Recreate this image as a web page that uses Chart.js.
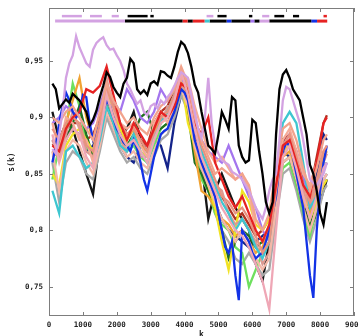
<!DOCTYPE html>
<html><head><meta charset="utf-8">
<script src="https://cdn.jsdelivr.net/npm/chart.js@4"></script>
<style>html,body{margin:0;padding:0;background:#fff}canvas{display:block}</style>
</head><body>
<canvas id="c" width="359" height="336"></canvas>
<script>
// ---- data ----
// fine grid (every 100) for the three most visible series
const kFine = [100,200,300,400,500,600,700,800,900,1000,
  1100,1200,1300,1400,1500,1600,1700,1800,1900,2000,
  2100,2200,2300,2400,2500,2600,2700,2800,2900,3000,
  3100,3200,3300,3400,3500,3600,3700,3800,3900,4000,
  4100,4200,4300,4400,4500,4600,4700,4800,4900,5000,
  5100,5200,5300,5400,5500,5600,5700,5800,5900,6000,
  6100,6200,6300,6400,6500,6600,6700,6800,6900,7000,
  7100,7200,7300,7400,7500,7600,7700,7800,7900,8000,
  8100,8200];
const sBlack = [0.930,0.925,0.908,0.912,0.916,0.913,0.921,0.918,0.915,0.910,
  0.905,0.893,0.898,0.906,0.918,0.928,0.940,0.936,0.927,0.922,
  0.918,0.930,0.935,0.952,0.948,0.925,0.921,0.924,0.920,0.930,
  0.932,0.929,0.941,0.940,0.937,0.935,0.945,0.958,0.967,0.964,
  0.957,0.945,0.929,0.922,0.905,0.890,0.875,0.872,0.868,0.885,
  0.905,0.898,0.890,0.918,0.915,0.875,0.865,0.860,0.862,0.898,
  0.895,0.870,0.850,0.825,0.815,0.825,0.885,0.925,0.938,0.942,
  0.935,0.925,0.920,0.915,0.900,0.885,0.858,0.850,0.835,0.815,
  0.805,0.825];
const sLavender = [0.872,0.868,0.885,0.905,0.935,0.948,0.955,0.972,0.962,0.955,
  0.948,0.945,0.960,0.966,0.969,0.971,0.964,0.960,0.961,0.955,
  0.950,0.942,0.930,0.925,0.918,0.912,0.915,0.905,0.902,0.910,
  0.912,0.908,0.915,0.912,0.918,0.922,0.928,0.935,0.940,0.938,
  0.935,0.920,0.905,0.890,0.882,0.900,0.935,0.895,0.875,0.868,
  0.862,0.860,0.858,0.852,0.850,0.848,0.845,0.840,0.835,0.828,
  0.820,0.815,0.810,0.820,0.835,0.845,0.850,0.880,0.915,0.927,
  0.925,0.915,0.905,0.895,0.880,0.862,0.845,0.842,0.840,0.845,
  0.850,0.860];
const sBlue = [0.860,0.875,0.895,0.910,0.922,0.915,0.905,0.900,0.905,0.920,
  0.918,0.895,0.880,0.885,0.895,0.905,0.915,0.910,0.900,0.890,
  0.885,0.878,0.875,0.870,0.880,0.872,0.860,0.845,0.835,0.850,
  0.865,0.875,0.885,0.888,0.890,0.898,0.905,0.915,0.925,0.922,
  0.915,0.898,0.880,0.870,0.860,0.852,0.845,0.838,0.830,0.815,
  0.800,0.785,0.780,0.790,0.760,0.738,0.800,0.795,0.790,0.780,
  0.775,0.778,0.780,0.790,0.800,0.815,0.830,0.855,0.870,0.878,
  0.875,0.865,0.850,0.835,0.820,0.790,0.760,0.740,0.800,0.835,
  0.860,0.875];

// coarse grid (every 200) for the rest of the bundle
const kValues = [100,300,500,700,900,1100,1300,1500,1700,1900,2100,2300,2500,2700,2900,3100,3300,3500,3700,3900,4100,4300,4500,4700,4900,5100,5300,5500,5700,5900,6100,6300,6500,6700,6900,7100,7300,7500,7700,7900,8100,8200];
const sSalmon1 = [0.900,0.895,0.905,0.910,0.900,0.890,0.880,0.905,0.930,0.915,0.905,0.895,0.900,0.890,0.885,0.900,0.910,0.915,0.925,0.945,0.930,0.900,0.880,0.865,0.850,0.855,0.850,0.845,0.850,0.840,0.810,0.800,0.815,0.855,0.890,0.895,0.880,0.855,0.835,0.855,0.880,0.885];
const sPink = [0.885,0.860,0.880,0.890,0.885,0.865,0.855,0.885,0.920,0.900,0.885,0.875,0.880,0.870,0.860,0.880,0.895,0.900,0.915,0.940,0.920,0.890,0.865,0.850,0.835,0.820,0.810,0.800,0.795,0.785,0.770,0.755,0.730,0.800,0.865,0.875,0.855,0.830,0.810,0.830,0.855,0.860];
const sRed = [0.875,0.870,0.890,0.900,0.905,0.925,0.922,0.928,0.945,0.920,0.895,0.880,0.895,0.885,0.875,0.890,0.905,0.900,0.910,0.930,0.925,0.895,0.885,0.900,0.860,0.845,0.830,0.820,0.830,0.815,0.800,0.790,0.805,0.840,0.875,0.880,0.860,0.840,0.830,0.860,0.895,0.900];
const sSalmon4 = [0.890,0.880,0.895,0.900,0.895,0.875,0.870,0.895,0.925,0.910,0.895,0.885,0.890,0.880,0.870,0.890,0.900,0.905,0.920,0.940,0.925,0.895,0.875,0.860,0.845,0.830,0.825,0.815,0.820,0.810,0.795,0.780,0.790,0.835,0.875,0.885,0.865,0.840,0.825,0.845,0.870,0.875];
const sSalmon5 = [0.895,0.870,0.900,0.895,0.880,0.880,0.860,0.890,0.915,0.905,0.895,0.890,0.895,0.875,0.865,0.895,0.905,0.895,0.910,0.935,0.935,0.910,0.890,0.870,0.860,0.865,0.855,0.845,0.850,0.835,0.800,0.790,0.805,0.845,0.880,0.890,0.870,0.850,0.840,0.860,0.870,0.870];
const sCyan = [0.835,0.815,0.870,0.875,0.865,0.855,0.860,0.880,0.910,0.895,0.875,0.870,0.885,0.870,0.860,0.880,0.895,0.905,0.920,0.940,0.930,0.895,0.870,0.855,0.840,0.825,0.815,0.800,0.810,0.800,0.785,0.775,0.790,0.845,0.895,0.905,0.895,0.860,0.820,0.830,0.855,0.860];
const sSalmon3 = [0.870,0.835,0.870,0.880,0.875,0.860,0.850,0.875,0.905,0.890,0.875,0.865,0.870,0.860,0.855,0.870,0.885,0.890,0.905,0.925,0.910,0.875,0.855,0.840,0.825,0.810,0.800,0.790,0.800,0.790,0.775,0.765,0.775,0.820,0.860,0.865,0.845,0.820,0.800,0.820,0.845,0.850];
const sRosy = [0.880,0.865,0.885,0.905,0.890,0.870,0.865,0.890,0.935,0.905,0.880,0.870,0.885,0.865,0.865,0.885,0.895,0.910,0.910,0.930,0.915,0.880,0.870,0.845,0.840,0.835,0.815,0.805,0.810,0.800,0.790,0.770,0.780,0.825,0.870,0.880,0.860,0.835,0.820,0.840,0.860,0.868];
const sPurple = [0.895,0.900,0.910,0.905,0.900,0.890,0.895,0.910,0.930,0.915,0.905,0.925,0.915,0.900,0.895,0.905,0.925,0.915,0.925,0.935,0.925,0.895,0.880,0.870,0.865,0.860,0.875,0.860,0.845,0.830,0.820,0.800,0.790,0.830,0.875,0.885,0.870,0.850,0.820,0.830,0.845,0.850];
const sYellow = [0.850,0.840,0.875,0.885,0.890,0.880,0.870,0.895,0.925,0.905,0.890,0.875,0.880,0.870,0.865,0.880,0.895,0.900,0.915,0.935,0.895,0.875,0.860,0.840,0.820,0.790,0.765,0.800,0.835,0.825,0.805,0.800,0.810,0.835,0.870,0.875,0.855,0.835,0.810,0.825,0.840,0.845];
const sOrange = [0.865,0.870,0.895,0.915,0.935,0.900,0.880,0.895,0.920,0.905,0.885,0.880,0.890,0.875,0.870,0.885,0.900,0.905,0.920,0.935,0.910,0.870,0.835,0.830,0.820,0.810,0.805,0.795,0.800,0.790,0.780,0.785,0.800,0.835,0.865,0.870,0.850,0.825,0.815,0.835,0.865,0.870];
const sDarkGreen = [0.870,0.865,0.880,0.895,0.910,0.885,0.865,0.880,0.910,0.895,0.880,0.875,0.885,0.900,0.905,0.885,0.890,0.895,0.910,0.930,0.905,0.860,0.850,0.835,0.820,0.800,0.775,0.790,0.800,0.795,0.785,0.790,0.795,0.830,0.860,0.865,0.845,0.820,0.805,0.830,0.855,0.860];
const sLightGreen = [0.845,0.875,0.890,0.930,0.910,0.875,0.865,0.885,0.915,0.895,0.880,0.870,0.875,0.865,0.860,0.875,0.890,0.895,0.905,0.925,0.910,0.870,0.845,0.835,0.815,0.805,0.800,0.785,0.780,0.750,0.765,0.780,0.790,0.825,0.855,0.860,0.840,0.815,0.795,0.820,0.845,0.850];
const sBrown = [0.875,0.880,0.890,0.895,0.895,0.880,0.885,0.900,0.925,0.910,0.895,0.885,0.890,0.880,0.875,0.895,0.905,0.910,0.925,0.940,0.915,0.880,0.860,0.850,0.835,0.830,0.820,0.810,0.815,0.805,0.795,0.800,0.810,0.850,0.880,0.885,0.870,0.845,0.835,0.865,0.895,0.902];
const sGray = [0.860,0.825,0.860,0.870,0.865,0.850,0.845,0.870,0.900,0.885,0.870,0.860,0.865,0.855,0.850,0.865,0.880,0.885,0.900,0.920,0.905,0.870,0.850,0.835,0.815,0.800,0.790,0.775,0.770,0.780,0.770,0.760,0.765,0.810,0.850,0.855,0.835,0.810,0.790,0.810,0.835,0.840];
const sNavy = [0.880,0.875,0.885,0.890,0.885,0.870,0.875,0.890,0.905,0.890,0.875,0.865,0.860,0.875,0.870,0.880,0.875,0.855,0.895,0.920,0.910,0.875,0.855,0.840,0.825,0.810,0.800,0.795,0.790,0.785,0.790,0.795,0.800,0.845,0.870,0.865,0.845,0.830,0.815,0.850,0.885,0.880];
const sDark = [0.905,0.880,0.895,0.890,0.870,0.850,0.832,0.880,0.915,0.900,0.885,0.890,0.905,0.880,0.870,0.890,0.900,0.905,0.915,0.935,0.920,0.885,0.860,0.810,0.835,0.850,0.835,0.820,0.810,0.800,0.770,0.755,0.790,0.840,0.880,0.875,0.860,0.835,0.800,0.815,0.835,0.845];

// marker strips at the top: [start k, end k, series]
const upperMarks = [[380,970,'lavender'],[1210,1560,'lavender'],[1850,2060,'lavender'],[2320,2910,'black'],[2990,3090,'black'],[4650,4850,'lavender'],[4970,5240,'black'],[5900,6000,'black'],[6290,6500,'lavender'],[6650,6940,'black'],[7200,7380,'black'],[8100,8200,'red']];
const lowerMarks = [[180,2240,'lavender'],[2240,3940,'black'],[3940,4090,'red'],[4090,4240,'black'],[4240,4590,'red'],[4590,4740,'cyan'],[4740,5240,'black'],[5240,5380,'blue'],[5380,5940,'black'],[5940,6060,'purple'],[6060,6210,'black'],[6210,6500,'lavender'],[6500,7740,'black'],[7740,7910,'blue'],[7910,8210,'red']];
const upperLevel = 0.9898;
const lowerLevel = 0.9854;

const xTicks = [0,1000,2000,3000,4000,5000,6000,7000,8000,9000];
const yTicks = [0.75,0.8,0.85,0.9,0.95];

// ---- styles ----
const colors = {
  black:'#000000', lavender:'#d3a2e2', salmon1:'#f2a38c', pink:'#efa7b6', red:'#e62222',
  salmon4:'#e8927f', salmon5:'#f6ab98', rosy:'#dc9a92', blue:'#1232e6', cyan:'#3ec6d0',
  salmon3:'#f4b8a8', purple:'#a475ee', yellow:'#f0e224', orange:'#f0a232',
  darkgreen:'#217021', lightgreen:'#6ee05e', brown:'#b03222', gray:'#a8a8a8',
  navy:'#14248a', dark:'#151515'
};
const seriesOrder = [
  ['black', kFine, sBlack], ['lavender', kFine, sLavender], ['salmon1', kValues, sSalmon1],
  ['pink', kValues, sPink], ['red', kValues, sRed], ['salmon4', kValues, sSalmon4],
  ['blue', kFine, sBlue], ['salmon5', kValues, sSalmon5], ['cyan', kValues, sCyan],
  ['salmon3', kValues, sSalmon3], ['rosy', kValues, sRosy], ['purple', kValues, sPurple],
  ['yellow', kValues, sYellow], ['orange', kValues, sOrange], ['darkgreen', kValues, sDarkGreen],
  ['lightgreen', kValues, sLightGreen], ['brown', kValues, sBrown], ['gray', kValues, sGray],
  ['navy', kValues, sNavy], ['dark', kValues, sDark]
];

const datasets = [];
upperMarks.forEach(m => datasets.push({
  data:[{x:m[0],y:upperLevel},{x:m[1],y:upperLevel}], borderColor: colors[m[2]], borderWidth: 2.5
}));
lowerMarks.forEach(m => datasets.push({
  data:[{x:m[0],y:lowerLevel},{x:m[1],y:lowerLevel}], borderColor: colors[m[2]], borderWidth: 3
}));
seriesOrder.forEach(([name, ks, arr]) => datasets.push({
  label: name,
  data: ks.map((k,i) => ({x:k, y:arr[i]})),
  borderColor: colors[name], borderWidth: 2.3
}));

const tickFont = {family:'"DejaVu Sans Mono", monospace', size:7.5, weight:'bold'};

const framePlugin = {
  id:'frame',
  afterDatasetsDraw(chart){
    const {ctx, chartArea:a, scales:{x, y}} = chart;
    ctx.save();
    ctx.strokeStyle = '#7d7d7d'; ctx.lineWidth = 1;
    ctx.strokeRect(a.left+0.5, a.top+0.5, a.right-a.left-1, a.bottom-a.top-1);
    ctx.beginPath();
    x.ticks.forEach(t => {
      const px = Math.round(x.getPixelForValue(t.value))+0.5;
      ctx.moveTo(px, a.bottom); ctx.lineTo(px, a.bottom-4);
      ctx.moveTo(px, a.top); ctx.lineTo(px, a.top+4);
    });
    y.ticks.forEach(t => {
      const py = Math.round(y.getPixelForValue(t.value))+0.5;
      ctx.moveTo(a.left, py); ctx.lineTo(a.left+4, py);
      ctx.moveTo(a.right, py); ctx.lineTo(a.right-4, py);
    });
    ctx.stroke();
    ctx.restore();
  }
};

new Chart(document.getElementById('c'), {
  type:'line',
  data:{datasets},
  options:{
    responsive:false, animation:false, devicePixelRatio:1,
    layout:{padding:{left:0, right:5, top:8, bottom:0}},
    elements:{point:{radius:0}, line:{tension:0}},
    plugins:{legend:{display:false}, tooltip:{enabled:false}},
    scales:{
      x:{
        type:'linear', min:0, max:9000,
        grid:{display:false, drawTicks:false, tickLength:0}, border:{display:false},
        afterBuildTicks: s => { s.ticks = xTicks.map(v => ({value:v})); },
        afterFit: s => { s.height = 20; s.paddingLeft = 0; s.paddingRight = 0; },
        ticks:{font:tickFont, color:'#222', padding:5, maxRotation:0, autoSkip:false, callback: v => String(v)},
        title:{display:true, text:'k', font:{family:'"DejaVu Sans Mono", monospace', size:8, weight:'bold'}, color:'#222', padding:{top:0, bottom:-4}}
      },
      y:{
        type:'linear', min:0.724, max:0.997,
        grid:{display:false, drawTicks:false, tickLength:0}, border:{display:false},
        afterBuildTicks: s => { s.ticks = yTicks.map(v => ({value:v})); },
        afterFit: s => { s.width = 49; s.paddingTop = 0; s.paddingBottom = 0; },
        ticks:{font:tickFont, color:'#222', padding:6, callback: v => String(v).replace('.', ',')},
        title:{display:true, text:'s(k)', font:{family:'"DejaVu Sans Mono", monospace', size:8, weight:'bold'}, color:'#222', padding:{top:7, bottom:0}}
      }
    }
  },
  plugins:[framePlugin]
});
</script>
</body></html>
